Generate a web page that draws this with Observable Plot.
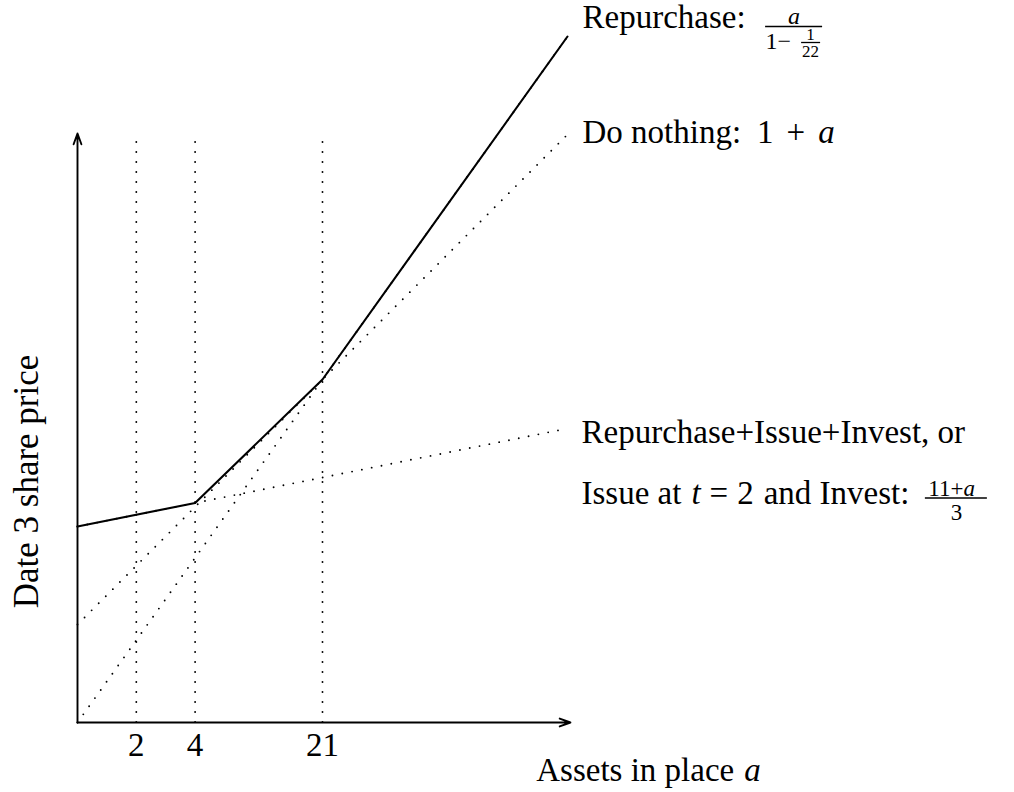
<!DOCTYPE html>
<html>
<head>
<meta charset="utf-8">
<script src="https://cdn.jsdelivr.net/npm/d3@7"></script>
<script src="https://cdn.jsdelivr.net/npm/@observablehq/plot@0.6"></script>
<style>
  html, body { margin: 0; padding: 0; background: #fff; }
  #chart svg { display: block; }
</style>
</head>
<body>
<div id="chart"></div>
<script>
// ---- data (schematic diagram units) ----
const lineX       = [0, 10];          // common x extent of the three strategy lines
const doNothing   = [2, 12];          // "Do nothing: 1 + a"
const repurchase  = [0, 14];          // "Repurchase: a / (1 - 1/22)"
const issueInvest = [4, 6];           // "Issue at t = 2 and Invest: (11 + a)/3"
const envelopeX   = [0, 2.4, 5, 10];  // upper envelope (solid)
const envelopeY   = [4, 4.48, 7, 14];
const tickPos     = [1.2, 2.4, 5];    // positions of the marked asset levels
const tickLabels  = ["2", "4", "21"];
const axisXEnd    = 10.06;
const axisYEnd    = 12.02;
const guideTop    = 11.84;

// ---- layout helpers ----
const FONT = '"Liberation Serif", "Times New Roman", serif';
const FS = 33;
const ctx = document.createElement("canvas").getContext("2d");
function tw(t, size, italic) {
  ctx.font = `${italic ? "italic " : ""}${size}px "Liberation Serif"`;
  return ctx.measureText(t).width;
}
function label(anchor, t, {dx = 0, dy = 0, size = FS, italic = false, align = "start", rotate = 0, frameAnchor} = {}) {
  const opts = {
    text: () => t, dx, dy, fontSize: size, fontStyle: italic ? "italic" : "normal",
    fontFamily: FONT, textAnchor: align, lineAnchor: "bottom", fill: "black", rotate
  };
  if (frameAnchor) return Plot.text([0], {...opts, frameAnchor});
  return Plot.text([anchor], {...opts, x: "x", y: "y"});
}
// flowing run of segments; returns {marks, end}
function flow(anchor, segs, {dx = 0, dy = 0, size = FS, align = "start"} = {}) {
  const total = d3.sum(segs, s => (s.gap || 0) + tw(s.t, s.size || size, s.italic));
  let x = align === "middle" ? dx - total / 2 : dx;
  const marks = [];
  for (const s of segs) {
    x += s.gap || 0;
    marks.push(label(anchor, s.t, {dx: x, dy: dy + (s.dy || 0), size: s.size || size, italic: s.italic}));
    x += tw(s.t, s.size || size, s.italic);
  }
  return {marks, end: x};
}
function bar(anchor, x0, x1, dy) {
  return Plot.ruleY([anchor], {x1: "x", x2: "x", y: "y", insetLeft: x0, insetRight: -x1, dy, stroke: "black", strokeWidth: 1.3});
}

// ---- tables for the library ----
const series = (ys) => lineX.map((x, i) => ({x, y: ys[i]}));
const envelope = envelopeX.map((x, i) => ({x, y: envelopeY[i]}));
const ticks = tickPos.map((x, i) => ({x, y: 0, label: tickLabels[i]}));
const endRep = {x: lineX[1], y: repurchase[1]};
const endDN  = {x: lineX[1], y: doNothing[1]};
const endIss = {x: lineX[1], y: issueInvest[1]};

const dotted = {stroke: "black", strokeWidth: 1.9, strokeDasharray: "0,10", strokeLinecap: "round"};

// Repurchase label
const repText = flow(endRep, [{t: "Repurchase:"}], {dx: 15, dy: -9});
const rb0 = repText.end + 20, rb1 = rb0 + 57, rc = (rb0 + rb1) / 2;
const repFrac = [
  bar(endRep, rb0, rb1, -10),
  label(endRep, "a", {dx: rc, dy: -13, size: 24, italic: true, align: "middle"}),
  label(endRep, "1−", {dx: rb0, dy: 12, size: 24}),
  label(endRep, "1", {dx: rb0 + 45, dy: 3, size: 17, align: "middle"}),
  bar(endRep, rb0 + 36, rb0 + 55, 6),
  label(endRep, "22", {dx: rb0 + 45, dy: 20, size: 17, align: "middle"})
];

// Do nothing label
const dnText = flow(endDN, [
  {t: "Do nothing:"}, {t: "1", gap: 16}, {t: "+", gap: 13}, {t: "a", gap: 13, italic: true}
], {dx: 15, dy: 8});

// Issue labels
const issText1 = flow(endIss, [{t: "Repurchase+Issue+Invest, or"}], {dx: 14, dy: 14});
const issText2 = flow(endIss, [
  {t: "Issue at"}, {t: "t", gap: 10, italic: true}, {t: "=", gap: 9}, {t: "2", gap: 9}, {t: "and Invest:", gap: 10}
], {dx: 14, dy: 75});
const ib0 = issText2.end + 16, ib1 = ib0 + 62, ic = (ib0 + ib1) / 2;
const issFrac = [
  bar(endIss, ib0, ib1, 69.5),
  label(endIss, "11+", {dx: ic + 7, dy: 67, size: 23, align: "end"}),
  label(endIss, "a", {dx: ic + 7, dy: 67, size: 23, italic: true}),
  label(endIss, "3", {dx: ic, dy: 91, size: 23, align: "middle"})
];

// axis labels
const xLab = flow({x: lineX[1], y: 0}, [{t: "Assets in place"}, {t: "a", gap: 10, italic: true}], {dx: 81, dy: 58, align: "middle"});
const yLab = label(null, "Date 3 share price", {frameAnchor: "left", dx: 37, dy: 85, rotate: -90, align: "middle", size: 35});

const chart = Plot.plot({
  width: 1014,
  height: 792,
  margin: 0,
  x: {domain: [0, 10], range: [77, 567], axis: null},
  y: {domain: [0, 12], range: [722, 134], axis: null},
  style: {background: "#fff", overflow: "visible"},
  marks: [
    Plot.ruleX(ticks, {x: "x", y1: 0, y2: guideTop, ...dotted}),
    Plot.line(series(doNothing), {x: "x", y: "y", ...dotted}),
    Plot.line(series(repurchase), {x: "x", y: "y", ...dotted}),
    Plot.line(series(issueInvest), {x: "x", y: "y", ...dotted}),
    Plot.line(envelope, {x: "x", y: "y", stroke: "black", strokeWidth: 2.1}),
    Plot.arrow([{x1: 0, y1: 0, x2: axisXEnd, y2: 0}], {x1: "x1", y1: "y1", x2: "x2", y2: "y2", stroke: "black", strokeWidth: 1.9, headLength: 9, headAngle: 40}),
    Plot.arrow([{x1: 0, y1: 0, x2: 0, y2: axisYEnd}], {x1: "x1", y1: "y1", x2: "x2", y2: "y2", stroke: "black", strokeWidth: 1.9, headLength: 9, headAngle: 40}),
    Plot.text(ticks, {x: "x", y: "y", text: "label", dy: 33, lineAnchor: "bottom", textAnchor: "middle", fontSize: FS, fontFamily: FONT, fill: "black"}),
    ...repText.marks, ...repFrac,
    ...dnText.marks,
    ...issText1.marks, ...issText2.marks, ...issFrac,
    ...xLab.marks, yLab
  ]
});
document.getElementById("chart").appendChild(chart);
</script>
</body>
</html>
